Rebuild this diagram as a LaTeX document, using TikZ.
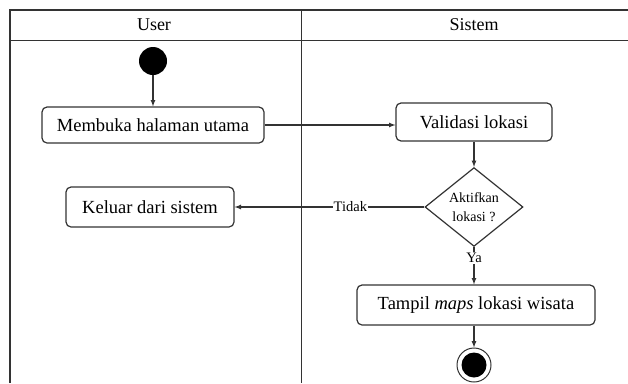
\documentclass[tikz,border=0pt]{standalone}
\usepackage{fontspec}
\setmainfont{Liberation Serif}
\usetikzlibrary{shapes.geometric, arrows, positioning}

\tikzset{
  activity/.style={draw=black!80, line width=1.2pt, rounded corners=5pt, fill=white,
    font=\fontsize{18.5}{21}\selectfont, inner sep=0pt},
  decision/.style={diamond, draw=black!80, line width=1.2pt, fill=white,
    font=\fontsize{14}{19}\selectfont, align=center, inner sep=0pt},
  flow/.style={->, >=latex, draw=black!80, line width=1.2pt},
  guard/.style={fill=white, font=\fontsize{14.5}{16}\selectfont, inner sep=1pt}
}

\begin{document}
\begin{tikzpicture}[x=1pt, y=-1pt]
        \useasboundingbox (0,0) rectangle (628,383);

        % Swimlanes
        \draw[line width=1.4pt, black!80] (10,383) -- (10,10) -- (628,10);
        \draw[line width=1pt, black!80] (10,40) -- (628,40);
        \draw[line width=1pt, black!80] (301,10) -- (301,383);
        \node (laneUser) at (154,25) {\fontsize{18}{20}\selectfont User};
        \node (laneSistem) at (474,25) {\fontsize{18}{20}\selectfont Sistem};

        % Start
        \node (start) [circle, fill=black, minimum size=28pt, inner sep=0pt] at (153,61) {};

        % Activities
        \node (membuka) [activity, minimum width=222pt, minimum height=36pt] at (153,125) {Membuka halaman utama};
        \node (validasi) [activity, minimum width=156pt, minimum height=38pt] at (474,122) {Validasi lokasi};
        \node (cek) [decision, minimum width=98pt, minimum height=78pt] at (474,207) {Aktifkan\\lokasi ?};
        \node (keluar) [activity, minimum width=168pt, minimum height=40pt] at (150,207) {Keluar dari sistem};
        \node (tampil) [activity, minimum width=238pt, minimum height=40pt] at (476,305) {Tampil \textit{maps} lokasi wisata};

        % End
        \node (end) [circle, draw=black!80, line width=1pt, minimum size=34pt, inner sep=0pt,
          path picture={\fill (path picture bounding box.center) circle (12.5pt);}] at (474,365) {};

        % Flows
        \draw[flow] (start) -- (membuka);
        \draw[flow] (membuka) -- (validasi.west |- membuka);
        \draw[flow] (validasi) -- (cek);
        \draw[flow] (cek) -- node[guard, pos=0.39] {Tidak} (keluar);
        \draw[flow] (cek) -- node[guard, pos=0.3] {Ya} (tampil.north -| cek);
        \draw[flow] (tampil.south -| end) -- (end);
      \end{tikzpicture}
\end{document}
